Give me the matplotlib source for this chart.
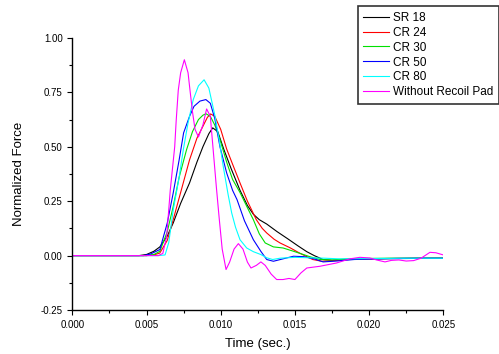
import matplotlib
matplotlib.use("Agg")
import matplotlib.pyplot as plt
import matplotlib.ticker as mticker

plt.rcParams["font.family"] = ["Liberation Sans", "DejaVu Sans"]

# ── Data ──────────────────────────────────────────────────────────────────────
sr18_t = [0, 0.0045, 0.0050, 0.0055, 0.0059, 0.0064, 0.0068, 0.0073, 0.0079, 0.0084,
          0.0088, 0.0092, 0.00946, 0.0098, 0.0102, 0.0107, 0.0113, 0.0118, 0.0122, 0.0126,
          0.0131, 0.0138, 0.0145, 0.0152, 0.0158, 0.0163, 0.0169, 0.0175, 0.0185, 0.0200,
          0.0215, 0.0230, 0.0250]
sr18_v = [0, 0, 0.005, 0.02, 0.04, 0.09, 0.15, 0.24, 0.334, 0.43,
          0.50, 0.56, 0.587, 0.57, 0.49, 0.40, 0.30, 0.23, 0.19, 0.165,
          0.145, 0.11, 0.078, 0.045, 0.018, 0.0, -0.018, -0.022, -0.018, -0.015,
          -0.014, -0.013, -0.012]

cr24_t = [0, 0.0050, 0.0055, 0.0059, 0.0064, 0.0068, 0.0073, 0.0079, 0.0084, 0.0088,
          0.0091, 0.00932, 0.0096, 0.0100, 0.0104, 0.0108, 0.0113, 0.0118, 0.0124, 0.0128,
          0.0131, 0.0136, 0.0140, 0.0147, 0.0153, 0.0158, 0.0162, 0.0168, 0.0175, 0.0185,
          0.0200, 0.0215, 0.0230, 0.0250]
cr24_v = [0, 0, 0.003, 0.012, 0.07, 0.165, 0.29, 0.44, 0.54, 0.594,
          0.635, 0.651, 0.64, 0.58, 0.49, 0.42, 0.334, 0.25, 0.165, 0.125,
          0.104, 0.075, 0.058, 0.035, 0.012, -0.005, -0.018, -0.026, -0.024, -0.018,
          -0.015, -0.013, -0.012, -0.012]

cr30_t = [0, 0.0050, 0.0055, 0.0059, 0.0064, 0.0068, 0.0072, 0.0077, 0.0081, 0.0085,
          0.0088, 0.0090, 0.0093, 0.0096, 0.00995, 0.0104, 0.0108, 0.0113, 0.0118, 0.0122,
          0.0126, 0.0130, 0.01355, 0.0142, 0.0149, 0.01557, 0.0160, 0.0167, 0.0175, 0.0185,
          0.0200, 0.0215, 0.0230, 0.0250]
cr30_v = [0, 0, 0.005, 0.02, 0.11, 0.226, 0.36, 0.487, 0.57, 0.625,
          0.645, 0.652, 0.64, 0.60, 0.533, 0.43, 0.35, 0.29, 0.22, 0.165,
          0.10, 0.058, 0.04, 0.035, 0.02, 0.005, -0.005, -0.018, -0.02, -0.015,
          -0.013, -0.012, -0.012, -0.012]

cr50_t = [0, 0.0048, 0.0053, 0.0059, 0.0064, 0.0068, 0.0072, 0.0075, 0.0079, 0.0082,
          0.0086, 0.0090, 0.0093, 0.0096, 0.00995, 0.0104, 0.0108, 0.0111, 0.0116, 0.0122,
          0.0127, 0.0131, 0.01355, 0.0142, 0.0149, 0.0156, 0.0163, 0.0169, 0.0178, 0.0190,
          0.0205, 0.0220, 0.0235, 0.0250]
cr50_v = [0, 0, 0.008, 0.028, 0.15, 0.288, 0.44, 0.564, 0.64, 0.686,
          0.71, 0.717, 0.70, 0.63, 0.50, 0.38, 0.30, 0.257, 0.16, 0.073,
          0.02, -0.018, -0.026, -0.015, -0.003, -0.005, -0.015, -0.029, -0.025, -0.018,
          -0.015, -0.013, -0.012, -0.012]

cr80_t = [0, 0.0058, 0.00625, 0.0065, 0.0068, 0.0072, 0.00748, 0.0078, 0.00815, 0.0085,
          0.00888, 0.0092, 0.00962, 0.0099, 0.01017, 0.0105, 0.01074, 0.0110, 0.0113, 0.01175,
          0.0122, 0.0127, 0.0131, 0.0135, 0.0140, 0.0150, 0.0160, 0.0170, 0.0180, 0.0195,
          0.0210, 0.0225, 0.0240, 0.0250]
cr80_v = [0, 0, 0.003, 0.06, 0.21, 0.36, 0.487, 0.61, 0.717, 0.78,
          0.808, 0.77, 0.64, 0.53, 0.41, 0.28, 0.196, 0.13, 0.073, 0.035,
          0.018, 0.005, -0.01, -0.018, -0.012, -0.008, -0.01, -0.012, -0.015, -0.014,
          -0.013, -0.012, -0.012, -0.012]

nopad_t = [0, 0.0058, 0.0061, 0.00636, 0.0066, 0.0069, 0.0070, 0.00714, 0.0073, 0.00755,
           0.0078, 0.00793, 0.0081, 0.00827, 0.0085, 0.0088, 0.00905, 0.0093, 0.0095, 0.0097,
           0.0099, 0.0101, 0.01036, 0.0106, 0.0109, 0.01119, 0.0115, 0.0118, 0.01204, 0.0124,
           0.01271, 0.0130, 0.0134, 0.01377, 0.0142, 0.0146, 0.0150, 0.0154, 0.0158, 0.01669,
           0.0178, 0.0187, 0.01938, 0.02006, 0.0205, 0.02107, 0.0215, 0.0220, 0.0225, 0.0230,
           0.0235, 0.0241, 0.0245, 0.0250]
nopad_v = [0, 0, 0.01, 0.089, 0.30, 0.50, 0.62, 0.76, 0.84, 0.90,
           0.84, 0.76, 0.66, 0.58, 0.545, 0.60, 0.674, 0.64, 0.48, 0.32,
           0.17, 0.03, -0.064, -0.03, 0.03, 0.055, 0.03, -0.03, -0.057, -0.045,
           -0.029, -0.045, -0.085, -0.11, -0.11, -0.105, -0.11, -0.08, -0.057, -0.049,
           -0.034, -0.015, -0.008, -0.011, -0.02, -0.029, -0.022, -0.02, -0.025, -0.023,
           -0.012, 0.015, 0.013, 0.003]

series = [
    ("SR 18", sr18_t, sr18_v, "#000000"),
    ("CR 24", cr24_t, cr24_v, "#ff0000"),
    ("CR 30", cr30_t, cr30_v, "#00e000"),
    ("CR 50", cr50_t, cr50_v, "#0000ff"),
    ("CR 80", cr80_t, cr80_v, "#00ffff"),
    ("Without Recoil Pad", nopad_t, nopad_v, "#ff00ff"),
]

x_ticks = [0.000, 0.005, 0.010, 0.015, 0.020, 0.025]
y_ticks = [-0.25, 0.00, 0.25, 0.50, 0.75, 1.00]

# ── Figure ────────────────────────────────────────────────────────────────────
fig = plt.figure(figsize=(4.99, 3.54), dpi=100)
fig.patch.set_facecolor("white")
ax = fig.add_axes([0.1449, 0.1243, 0.7435, 0.7684])

for label, t, v, color in series:
    ax.plot(t, v, color=color, linewidth=0.8, label=label)

ax.set_xlim(0, 0.025)
ax.set_ylim(-0.25, 1.0)
ax.set_xticks(x_ticks)
ax.set_yticks(y_ticks)
ax.xaxis.set_major_formatter(mticker.FormatStrFormatter("%.3f"))
ax.yaxis.set_major_formatter(mticker.FormatStrFormatter("%.2f"))
ax.xaxis.set_minor_locator(mticker.MultipleLocator(0.0025))
ax.yaxis.set_minor_locator(mticker.MultipleLocator(0.125))

for spine in ("top", "right"):
    ax.spines[spine].set_visible(False)
for spine in ("left", "bottom"):
    ax.spines[spine].set_linewidth(1.0)
    ax.spines[spine].set_color("black")

ax.tick_params(which="major", direction="out", length=3.5, width=0.8, labelsize=7)
ax.tick_params(axis="x", which="major", pad=4)
ax.tick_params(axis="y", which="major", pad=3.5)
ax.tick_params(which="minor", direction="out", length=2, width=0.8)

ax.set_xlabel("Time (sec.)", fontsize=9.5, labelpad=5.5)
ax.set_ylabel("Normalized Force", fontsize=9.5, labelpad=11)

leg = ax.legend(
    loc="upper right", bbox_to_anchor=(1.0, 0.982), bbox_transform=fig.transFigure,
    borderaxespad=0, fontsize=8.5, frameon=True, fancybox=False,
    handlelength=2.2, handletextpad=0.35, labelspacing=0.25, borderpad=0.45,
)
leg.get_frame().set_edgecolor("#333333")
leg.get_frame().set_linewidth(1.2)
leg.get_frame().set_alpha(1)

fig.savefig("out.png", dpi=100, facecolor="white")
